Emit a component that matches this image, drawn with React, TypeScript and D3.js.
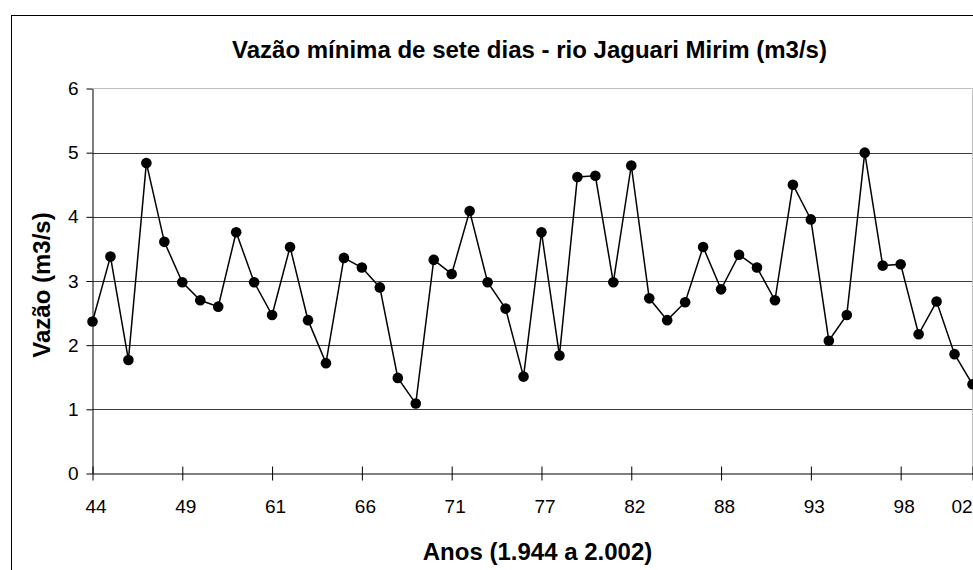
import React, { useRef, useEffect } from "react";
import * as d3 from "d3";

// anos (categorias do eixo X) - alguns anos faltam na série
const anos = [
  "44", "45", "46", "47", "48", "49", "50", "51", "52", "53",
  "61", "62", "63", "64", "65", "66", "67", "68", "69", "70",
  "71", "72", "73", "74", "76", "77", "78", "79", "80", "81",
  "82", "83", "84", "85", "87", "88", "89", "90", "91", "92",
  "93", "94", "95", "96", "97", "98", "99", "00", "01", "02",
];

// vazão mínima de sete dias (m3/s)
const vazao = [
  2.37, 3.38, 1.77, 4.84, 3.61, 2.98, 2.7, 2.6, 3.76, 2.98,
  2.47, 3.53, 2.39, 1.72, 3.36, 3.21, 2.9, 1.49, 1.09, 3.33,
  3.11, 4.09, 2.98, 2.57, 1.51, 3.76, 1.84, 4.62, 4.64, 2.98,
  4.8, 2.73, 2.39, 2.67, 3.53, 2.87, 3.41, 3.21, 2.7, 4.5,
  3.96, 2.07, 2.47, 5.0, 3.24, 3.26, 2.17, 2.68, 1.86, 1.39,
];

const yTicks = [0, 1, 2, 3, 4, 5, 6];
const xLabelEvery = 5;

const font = "'Liberation Sans', Arial, sans-serif";

const Chart = () => {
  const svgRef = useRef<SVGSVGElement>(null);

  useEffect(() => {
    const svg = d3.select(svgRef.current);
    svg.selectAll("*").remove();

    const left = 92.5;
    const right = 972.5;
    const top = 88.5;
    const bottom = 473.5;

    const x = d3.scalePoint<string>().domain(anos).range([left, right]);
    const y = d3.scaleLinear().domain([0, 6]).range([bottom, top]);

    // moldura externa
    svg
      .append("rect")
      .attr("x", 11.5)
      .attr("y", 15.5)
      .attr("width", 1100)
      .attr("height", 700)
      .attr("fill", "#fff")
      .attr("stroke", "#000");

    // grade
    svg
      .append("g")
      .selectAll("line")
      .data(yTicks.filter((t) => t > 0 && t < 6))
      .join("line")
      .attr("x1", left)
      .attr("x2", right)
      .attr("y1", (d) => Math.round(y(d)) + 0.5)
      .attr("y2", (d) => Math.round(y(d)) + 0.5)
      .attr("stroke", "#3a3a3a");

    // borda da área de plotagem
    svg
      .append("path")
      .attr("d", `M${left},${top}H${right}V${bottom}`)
      .attr("fill", "none")
      .attr("stroke", "#c0c0c0");

    const yAxis = svg
      .append("g")
      .attr("transform", `translate(${left},0)`)
      .call(
        d3
          .axisLeft(y)
          .tickValues(yTicks)
          .tickFormat(d3.format("d"))
          .tickSizeInner(6)
          .tickSizeOuter(0)
          .tickPadding(8)
      );
    yAxis.select(".domain").attr("stroke", "#000");
    yAxis.selectAll(".tick line").attr("stroke", "#000");
    yAxis
      .selectAll("text")
      .attr("font-family", font)
      .attr("font-size", 19)
      .attr("fill", "#000");

    const xTicks = anos.filter((_, i) => i % xLabelEvery === 0 || i === anos.length - 1);
    const xAxis = svg
      .append("g")
      .attr("transform", `translate(0,${bottom})`)
      .call(d3.axisBottom(x).tickValues(xTicks).tickSize(7).tickSizeOuter(0));
    xAxis.select(".domain").attr("stroke", "#000");
    xAxis.selectAll(".tick line").attr("y1", -7).attr("y2", 7).attr("stroke", "#000");
    xAxis
      .selectAll("text")
      .attr("y", 39.5)
      .attr("dy", 0)
      .attr("dx", (d) => (d === anos[anos.length - 1] ? -11 : 3))
      .attr("font-family", font)
      .attr("font-size", 19)
      .attr("fill", "#000");

    const line = d3
      .line<number>()
      .x((_, i) => x(anos[i]) as number)
      .y((d) => y(d));

    svg
      .append("path")
      .datum(vazao)
      .attr("d", line)
      .attr("fill", "none")
      .attr("stroke", "#000")
      .attr("stroke-width", 1.5);

    svg
      .append("g")
      .selectAll("circle")
      .data(vazao)
      .join("circle")
      .attr("cx", (_, i) => x(anos[i]) as number)
      .attr("cy", (d) => y(d))
      .attr("r", 5.3)
      .attr("fill", "#000");

    // títulos
    svg
      .append("text")
      .attr("x", 529.5)
      .attr("y", 58)
      .attr("text-anchor", "middle")
      .attr("font-family", font)
      .attr("font-size", 24)
      .attr("font-weight", "bold")
      .text("Vazão mínima de sete dias - rio Jaguari Mirim (m3/s)");

    svg
      .append("text")
      .attr("x", 537.5)
      .attr("y", 560)
      .attr("text-anchor", "middle")
      .attr("font-family", font)
      .attr("font-size", 24)
      .attr("font-weight", "bold")
      .text("Anos (1.944 a 2.002)");

    svg
      .append("text")
      .attr("transform", "translate(42,285) rotate(-90)")
      .attr("dy", "0.35em")
      .attr("text-anchor", "middle")
      .attr("font-family", font)
      .attr("font-size", 24)
      .attr("font-weight", "bold")
      .text("Vazão (m3/s)");
  }, []);

  return (
    <svg
      ref={svgRef}
      width={973}
      height={570}
      style={{ position: "absolute", left: 0, top: 0, background: "#fff" }}
    ></svg>
  );
};

export default function App() {
  return <Chart />;
}
